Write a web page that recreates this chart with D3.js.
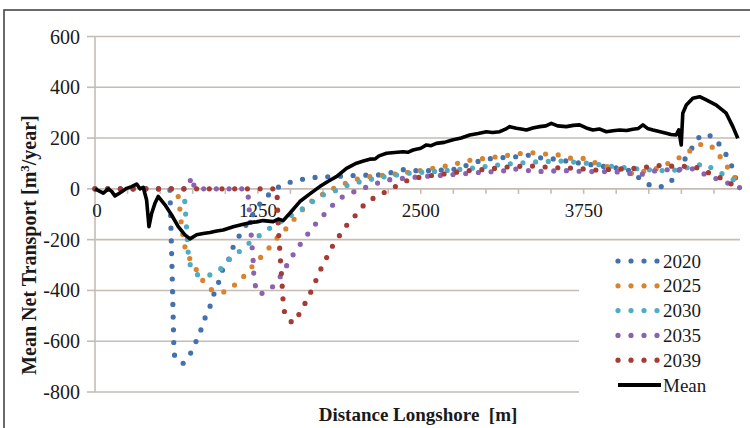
<!DOCTYPE html>
<html>
<head>
<meta charset="utf-8">
<script src="https://cdn.jsdelivr.net/npm/d3@7"></script>
<style>
	body { margin: 0; background: #fff; }
	svg { display: block; font-family: 'Liberation Serif', 'Times New Roman', serif; }
</style>
</head>
<body>
<svg></svg>
<script>
const width = 750;
const height = 428;

// tick values / labels
const yTicks = [-800, -600, -400, -200, 0, 200, 400, 600];
const xMinorTicks = d3.range(0, 5000, 250);
const xLabels = [0, 1250, 2500, 3750];

const years = ['2020', '2025', '2030', '2035', '2039'];
const colors = ['#4470ab', '#d9832f', '#4eacc4', '#8a62b0', '#a43b34'];

// [distance m, transport m3/year]
const s2020 = [[0,0],[575,0],[592,-330],[606,-640],[614,-667],[677,-687],[734,-647],[772,-605],[811,-558],[844,-509],[882,-464],[913,-414],[951,-365],[979,-319],[1028,-276],[1061,-228],[1107,-185],[1190,-118],[1273,-53],[1337,-21],[1413,9],[1508,28],[1603,39],[1700,46],[1802,48],[1994,53],[2186,55],[2275,64],[2377,77],[2492,70],[2659,74],[2761,77],[2901,101],[2991,117],[3131,123],[3246,127],[3336,133],[3438,120],[3541,117],[3643,107],[3821,94],[3924,87],[4026,81],[4118,70],[4193,35],[4277,9],[4364,9],[4448,42],[4538,127],[4647,212],[4742,208],[4814,160],[4852,127],[4895,81],[4921,35],[4947,9]];

const s2025 = [[0,0],[621,0],[639,-31],[652,-83],[667,-160],[690,-228],[729,-277],[780,-320],[831,-364],[895,-398],[989,-406],[1074,-378],[1145,-343],[1202,-308],[1273,-269],[1337,-232],[1403,-190],[1470,-155],[1534,-116],[1603,-76],[1664,-48],[1739,-24],[1841,5],[1930,24],[2032,42],[2109,48],[2301,58],[2492,72],[2697,90],[2889,114],[2991,120],[3183,133],[3272,140],[3374,142],[3464,137],[3566,133],[3656,120],[3758,120],[3847,101],[3950,85],[4052,74],[4128,59],[4218,70],[4320,81],[4410,103],[4499,127],[4576,153],[4666,180],[4755,160],[4806,120],[4870,74],[4921,35],[4947,20]];

const s2030 = [[0,0],[683,0],[690,-57],[703,-155],[716,-258],[734,-308],[792,-341],[887,-339],[972,-312],[1035,-276],[1114,-244],[1189,-211],[1269,-181],[1352,-151],[1472,-115],[1598,-76],[1687,-44],[1764,-20],[1866,-4],[1943,15],[2032,28],[2186,45],[2416,62],[2646,70],[2876,80],[3106,95],[3336,105],[3566,110],[3796,100],[4026,85],[4256,75],[4410,70],[4563,85],[4678,100],[4767,70],[4855,50],[4947,20]];

const s2035 = [[0,0],[713,0],[740,48],[767,0],[1158,0],[1176,-31],[1206,-230],[1214,-283],[1219,-339],[1232,-385],[1260,-416],[1342,-398],[1406,-359],[1457,-315],[1508,-269],[1559,-230],[1618,-188],[1674,-149],[1739,-112],[1802,-75],[1879,-37],[1969,-15],[2058,2],[2147,19],[2237,35],[2492,48],[2723,55],[2927,64],[3131,70],[3183,81],[3387,68],[3592,72],[3783,68],[3988,68],[4180,55],[4320,74],[4486,77],[4576,81],[4691,55],[4793,35],[4895,15],[4947,5]];

const s2039 = [[0,0],[1396,0],[1406,-149],[1419,-247],[1432,-346],[1444,-444],[1457,-496],[1516,-529],[1572,-490],[1618,-445],[1662,-400],[1700,-355],[1739,-309],[1785,-263],[1828,-220],[1884,-178],[1943,-135],[2007,-100],[2084,-50],[2165,-30],[2242,-8],[2326,15],[2416,38],[2513,48],[2620,55],[2723,61],[2824,70],[3004,77],[3196,88],[3387,90],[3489,84],[3694,81],[3847,74],[3975,77],[4154,81],[4256,87],[4358,94],[4461,87],[4563,90],[4640,81],[4742,55],[4844,35],[4908,9],[4947,-10]];

const meanLine = [[0,0],[30,-8],[64,-17],[102,0],[128,-10],[153,-28],[205,-11],[243,2],[281,9],[320,19],[345,0],[370,6],[396,-44],[414,-149],[435,-96],[460,-57],[485,-30],[537,-63],[588,-103],[639,-149],[690,-181],[729,-197],[780,-181],[830,-176],[882,-172],[935,-166],[984,-162],[1061,-149],[1130,-140],[1189,-133],[1240,-130],[1291,-125],[1367,-129],[1406,-119],[1444,-125],[1495,-96],[1572,-50],[1649,-20],[1725,9],[1790,30],[1853,48],[1930,81],[2007,101],[2060,110],[2109,117],[2150,118],[2180,130],[2237,140],[2300,143],[2364,146],[2400,144],[2441,153],[2500,160],[2544,173],[2580,170],[2620,179],[2680,183],[2748,193],[2810,200],[2876,212],[2940,218],[3004,225],[3050,222],[3106,225],[3150,235],[3183,245],[3234,239],[3270,236],[3311,232],[3360,240],[3413,245],[3460,248],[3502,258],[3550,248],[3617,245],[3670,250],[3719,252],[3770,240],[3821,232],[3870,236],[3924,225],[3975,229],[4026,232],[4080,230],[4128,235],[4170,238],[4205,252],[4240,238],[4282,232],[4330,226],[4384,219],[4420,214],[4460,212],[4480,232],[4499,173],[4511,298],[4538,330],[4588,357],[4640,363],[4691,350],[4768,330],[4844,298],[4895,245],[4933,199]];

const seriesData = [s2020, s2025, s2030, s2035, s2039];

const svg = d3.select('svg')
	.attr('width', width)
	.attr('height', height);

const x = d3.scaleLinear().domain([0, 4950]).range([95, 740]);
const y = d3.scaleLinear().domain([-800, 600]).range([392, 36.5]);

const gridColor = '#c6bcb4';
const textColor = '#1a1a1a';

// frame
svg.append('path')
	.attr('d', `M4,${height} L4,10 L${width},10`)
	.attr('fill', 'none')
	.attr('stroke', '#3a3a3a')
	.attr('stroke-width', 1.5);

// horizontal gridlines
svg.append('g')
	.selectAll('line')
	.data(yTicks)
	.enter().append('line')
		.attr('x1', x(0))
		.attr('x2', x(4950))
		.attr('y1', d => y(d))
		.attr('y2', d => y(d))
		.attr('stroke', gridColor)
		.attr('stroke-width', 1.6);

// y axis line + ticks
const yAxis = svg.append('g');
yAxis.append('line')
	.attr('x1', x(0)).attr('x2', x(0))
	.attr('y1', y(600)).attr('y2', y(-800))
	.attr('stroke', gridColor)
	.attr('stroke-width', 1.6);
yAxis.selectAll('.tick')
	.data(yTicks)
	.enter().append('line')
		.attr('x1', x(0) - 8).attr('x2', x(0))
		.attr('y1', d => y(d)).attr('y2', d => y(d))
		.attr('stroke', gridColor)
		.attr('stroke-width', 1.6);
yAxis.selectAll('text')
	.data(yTicks)
	.enter().append('text')
		.attr('x', 80)
		.attr('y', d => y(d))
		.attr('dy', '0.35em')
		.attr('text-anchor', 'end')
		.attr('font-size', 20)
		.attr('fill', textColor)
		.text(d => d);

// x axis ticks (axis line is the 0 gridline)
const xAxis = svg.append('g');
xAxis.selectAll('line')
	.data(xMinorTicks)
	.enter().append('line')
		.attr('x1', d => x(d)).attr('x2', d => x(d))
		.attr('y1', y(0)).attr('y2', y(0) + 5)
		.attr('stroke', gridColor)
		.attr('stroke-width', 1.6);
xAxis.selectAll('text')
	.data(xLabels)
	.enter().append('text')
		.attr('x', d => x(d) + (d === 0 ? 2 : 0))
		.attr('y', y(0) + 28)
		.attr('text-anchor', 'middle')
		.attr('font-size', 19)
		.attr('fill', textColor)
		.text(d => d);

// legend box sits over the plot area
svg.append('rect')
	.attr('x', 579)
	.attr('y', 246)
	.attr('width', 170)
	.attr('height', 152)
	.attr('fill', '#fff');

const line = d3.line()
	.x(d => x(d[0]))
	.y(d => y(d[1]));

// dotted series
svg.append('g')
	.selectAll('path')
	.data(seriesData)
	.enter().append('path')
		.attr('d', line)
		.attr('fill', 'none')
		.attr('stroke', (d, i) => colors[i])
		.attr('stroke-width', 5.2)
		.attr('stroke-linecap', 'round')
		.attr('stroke-dasharray', '0 12.7');

// mean
svg.append('path')
	.datum(meanLine)
	.attr('d', line)
	.attr('fill', 'none')
	.attr('stroke', '#000')
	.attr('stroke-width', 3.6)
	.attr('stroke-linejoin', 'round');

// legend
const legend = svg.append('g');
const rowY = i => 261 + i * 24.8;
const rows = legend.selectAll('g')
	.data(years)
	.enter().append('g')
		.attr('transform', (d, i) => `translate(0, ${rowY(i)})`);
rows.selectAll('circle')
	.data((d, i) => d3.range(4).map(k => ({ k, c: colors[i] })))
	.enter().append('circle')
		.attr('cx', d => 618 + d.k * 13)
		.attr('cy', 0)
		.attr('r', 2.6)
		.attr('fill', d => d.c);
rows.append('text')
	.attr('x', 663)
	.attr('dy', '0.35em')
	.attr('font-size', 19)
	.attr('fill', textColor)
	.text(d => d);

const meanRow = legend.append('g')
	.attr('transform', `translate(0, ${rowY(5)})`);
meanRow.append('line')
	.attr('x1', 618).attr('x2', 661)
	.attr('stroke', '#000')
	.attr('stroke-width', 4);
meanRow.append('text')
	.attr('x', 663)
	.attr('dy', '0.35em')
	.attr('font-size', 19)
	.attr('fill', textColor)
	.text('Mean');

// axis titles
const yTitle = svg.append('text')
	.attr('transform', 'translate(36, 245) rotate(-90)')
	.attr('text-anchor', 'middle')
	.attr('font-size', 20)
	.attr('font-weight', 'bold')
	.attr('fill', textColor);
yTitle.append('tspan').text('Mean Net Transport [m');
yTitle.append('tspan')
	.attr('font-size', 13)
	.attr('dy', -7)
	.text('3');
yTitle.append('tspan')
	.attr('dy', 7)
	.text('/year]');

svg.append('text')
	.attr('x', 418)
	.attr('y', 421)
	.attr('text-anchor', 'middle')
	.attr('font-size', 19)
	.attr('font-weight', 'bold')
	.attr('fill', textColor)
	.style('white-space', 'pre')
	.text('Distance Longshore  [m]');
</script>
</body>
</html>
